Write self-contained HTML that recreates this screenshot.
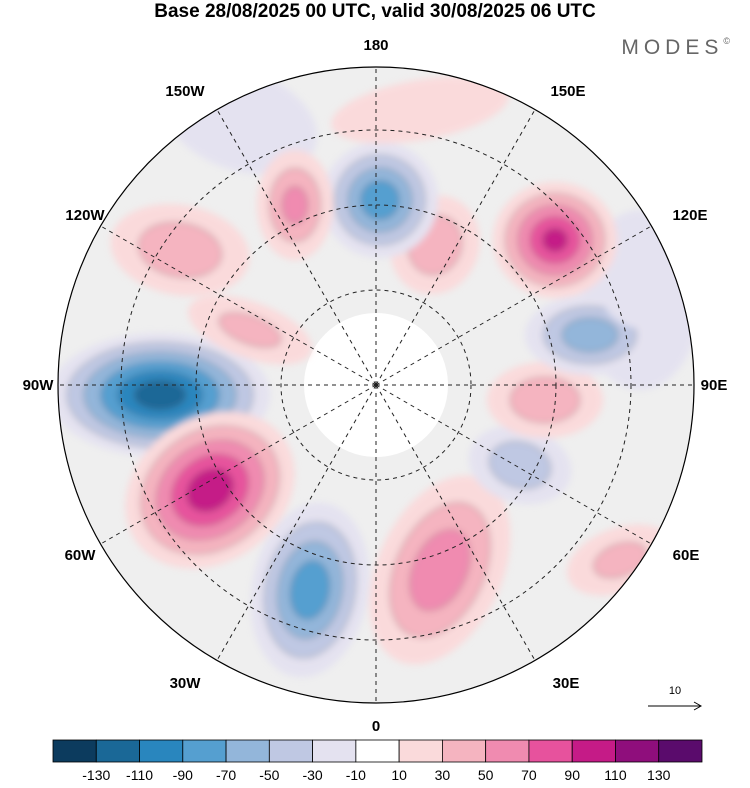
<!DOCTYPE html>
<html><head><meta charset="utf-8"><style>
body{margin:0;background:#fff;width:750px;height:783px;overflow:hidden;font-family:"Liberation Sans",sans-serif}
</style></head><body>
<svg id="s" width="750" height="783">
<defs>
<filter id="bl" x="-50%" y="-50%" width="200%" height="200%"><feGaussianBlur stdDeviation="3.5"/></filter>
<clipPath id="disk"><circle cx="376" cy="385" r="318"/></clipPath>
</defs>
<text x="375" y="17" text-anchor="middle" font-size="19" font-weight="bold">Base 28/08/2025 00 UTC, valid 30/08/2025 06 UTC</text>
<text x="735" y="54" text-anchor="end" font-size="21" fill="#666" letter-spacing="5">MODES<tspan font-size="9" dy="-10">©</tspan></text>
<g id="map" clip-path="url(#disk)">
<circle cx="376" cy="385" r="318" fill="#efefef"/>
<circle cx="376" cy="385" r="72" fill="#fff"/>
<g id="blobs" filter="url(#bl)"></g>
<g id="grid" stroke="#222" stroke-dasharray="4,4" fill="none" stroke-width="1"></g>
</g>
<circle cx="376" cy="385" r="318" fill="none" stroke="#000" stroke-width="1.2"/>
<g id="lbl" font-size="15" font-weight="bold" text-anchor="middle"></g>
<g><text x="675" y="694" font-size="11" text-anchor="middle">10</text>
<line x1="648" y1="706" x2="700" y2="706" stroke="#000"/><path d="M694,702 L701,706 L694,710" fill="none" stroke="#000"/></g>
<g id="cbar"></g>
</svg>
<script>
const levels=[-150,-130,-110,-90,-70,-50,-30,-10,10,30,50,70,90,110,130,150];
const tickLabels=[-130,-110,-90,-70,-50,-30,-10,10,30,50,70,90,110,130];
const colors=["#0c3b5e","#1a6897","#2986be","#559fd0","#93b6da","#bfc8e3","#e4e2f0","#ffffff","#fadadb","#f5b4c0","#f08bb0","#e7529d","#c51b87","#8f0e7c","#5a0b6c"];
// anomaly blobs: cx, cy, rx, ry, rot, peak value
const blobX=[240,640,160,210,310,440,520,545,590,555,435,380,295,180,250,620,650,420];
const blobY=[120,300,395,490,590,570,465,400,335,240,245,200,205,250,330,560,290,110];
const blobRX=[80,60,110,90,58,62,52,58,65,62,44,58,38,70,65,55,50,90];
const blobRY=[50,90,62,72,88,100,38,38,40,58,50,58,55,45,28,32,40,30];
const blobRot=[20,0,0,-35,10,25,15,0,0,0,20,35,0,10,20,-20,0,-10];
const blobVal=[-20,-20,-120,100,-80,60,-40,40,-60,90,40,-80,50,40,30,30,-20,20];
const NS="http://www.w3.org/2000/svg";
function colorFor(v){for(let i=0;i<levels.length-1;i++){if(v>=levels[i]&&v<levels[i+1])return colors[i];}return colors[colors.length-1];}
const B=document.getElementById('blobs');
blobX.forEach((x,i)=>{
  const v=blobVal[i];const steps=[];const sgn=v<0?-1:1;
  for(let t=10;t<=Math.abs(v);t+=20)steps.push(t);
  steps.forEach(t=>{
    const f=1-(t-10)/(Math.abs(v)+10);
    const e=document.createElementNS(NS,'ellipse');
    
    
    e.setAttribute('cx',x);e.setAttribute('cy',blobY[i]);
    e.setAttribute('rx',blobRX[i]*f);e.setAttribute('ry',blobRY[i]*f);
    e.setAttribute('transform','rotate('+blobRot[i]+' '+x+' '+blobY[i]+')');
    e.setAttribute('fill',colorFor(sgn*(t+1)));
    e.setAttribute('stroke',t>10?'#555':'none');
    e.setAttribute('stroke-width','0.6');
    B.appendChild(e);
  });
});
const G=document.getElementById('grid');
[95,180,255].forEach(r=>{const c=document.createElementNS(NS,'circle');


c.setAttribute('cx',376);c.setAttribute('cy',385);c.setAttribute('r',r);G.appendChild(c);});
for(let a=0;a<360;a+=30){const l=document.createElementNS(NS,'line');


const rad=a*Math.PI/180;l.setAttribute('x1',376);l.setAttribute('y1',385);
l.setAttribute('x2',376+330*Math.sin(rad));l.setAttribute('y2',385-330*Math.cos(rad));G.appendChild(l);}
const lonLabels=["180","150E","120E","90E","60E","30E","0","30W","60W","90W","120W","150W"];
const labelPos=[[376,50],[568,96],[690,220],[714,390],[686,560],[566,688],[376,731],[185,688],[80,560],[38,390],[85,220],[185,96]];
const L=document.getElementById('lbl');
lonLabels.forEach((s,i)=>{
const t=document.createElementNS(NS,'text');


t.setAttribute('x',labelPos[i][0]);t.setAttribute('y',labelPos[i][1]);t.textContent=s;L.appendChild(t);});
const C=document.getElementById('cbar');const x0=53,w=649/15;
colors.forEach((c,i)=>{const r=document.createElementNS(NS,'rect');


r.setAttribute('x',x0+i*w);r.setAttribute('y',740);r.setAttribute('width',w);r.setAttribute('height',22);
r.setAttribute('fill',c);r.setAttribute('stroke','#000');r.setAttribute('stroke-width','0.8');C.appendChild(r);});
tickLabels.forEach((v,i)=>{const t=document.createElementNS(NS,'text');


t.setAttribute('x',x0+(i+1)*w);t.setAttribute('y',780);t.setAttribute('text-anchor','middle');t.setAttribute('font-size','14');t.textContent=v;C.appendChild(t);});
</script>
</body></html>
